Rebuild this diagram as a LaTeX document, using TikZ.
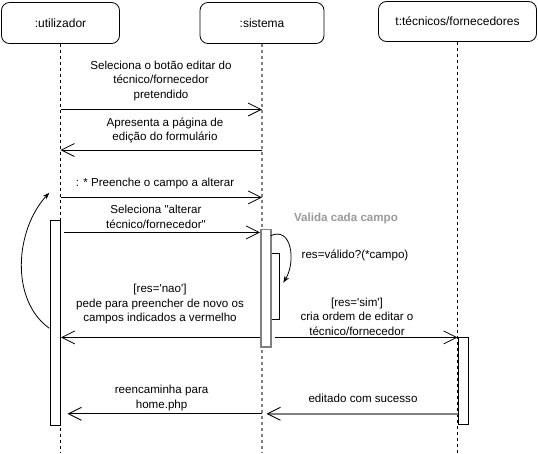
\documentclass[tikz,border=0pt]{standalone}
\usepackage{fontspec}
\setmainfont{Liberation Sans}
\usetikzlibrary{arrows.meta}
\definecolor{sysgray}{HTML}{808080}
\definecolor{lblgray}{HTML}{999999}
\tikzset{
  obj/.style={draw, rounded corners=8pt, line width=0.8pt, fill=white, inner sep=0pt, font=\fontsize{12}{14}\selectfont},
  life/.style={line width=0.8pt, dash pattern=on 3pt off 3pt},
  syslife/.style={line width=1.5pt, sysgray, dash pattern=on 3pt off 3pt},
  act/.style={draw, fill=white, line width=0.8pt, inner sep=0pt, minimum width=10pt},
  sysact/.style={draw=sysgray, fill=white, line width=1.5pt, inner sep=0pt, minimum width=10pt},
  msg/.style={line width=0.8pt, -{Straight Barb[length=13pt,width=13pt]}},
  sysmsg/.style={line width=1.5pt, sysgray, -{Straight Barb[length=13pt,width=13pt,line width=0.8pt,color=black]}},
  curv/.style={line width=0.8pt, -{Stealth[length=7pt,width=5pt]}},
  lbl/.style={align=center, inner sep=0pt, font=\fontsize{11.6}{14.5}\selectfont},
}
\begin{document}
\begin{tikzpicture}[x=1pt,y=-1pt]
\useasboundingbox (0,0) rectangle (538,453);
% objects
\node[obj, minimum width=118pt, minimum height=41pt] (u) at (60.5,23) {:utilizador};
\node[obj, minimum width=124pt, minimum height=41pt] (s) at (262,23) {:sistema};
\node[obj, minimum width=158pt, minimum height=40pt] (t) at (457.5,21.5) {t:técnicos/fornecedores};
% lifeline ends
\coordinate (uend) at (60.5,453);
\coordinate (send) at (262,453);
\coordinate (tend) at (457.5,453);
\draw[life] (u.south) -- (uend);
\draw[syslife] (s.south) -- (send);
\draw[life] (t.south) -- (tend);
% activations
\node[act, minimum height=205pt, anchor=north west] (ua) at (50,219.5) {};
\node[act, minimum width=9pt, minimum height=65.5pt, anchor=north west] (sn) at (270,253) {};
\node[sysact, minimum height=117.5pt, anchor=north west] (sa) at (260,228.5) {};
\node[act, minimum width=9.5pt, minimum height=87.7pt, anchor=north west] (ta) at (458,336.7) {};
% message endpoints
\coordinate (m1a) at (60.5,109.5); \coordinate (m1b) at (262,109.5);
\coordinate (m2a) at (262,150);    \coordinate (m2b) at (60.5,150);
\coordinate (m3a) at (60.5,197.4); \coordinate (m3b) at (262,197.4);
\coordinate (m4a) at (64,232.4);   \coordinate (m4b) at (260,232.4);
\coordinate (m5a) at (260,337.4);  \coordinate (m5b) at (61,337.4);
\coordinate (m6a) at (274.5,337.4); \coordinate (m6b) at (457.5,337.4);
\coordinate (m7a) at (262,413.8);  \coordinate (m7b) at (67.6,413.8);
\coordinate (m8a) at (458,413.8);  \coordinate (m8b) at (266.6,413.8);
\coordinate (selfa) at (270.7,235.7); \coordinate (selfb) at (283.3,282.7);
\coordinate (loopa) at (49.3,328.3); \coordinate (loopb) at (49.3,192.7);
% messages
\draw[msg] (m1a) -- (m1b);
\draw[msg] (m2a) -- (m2b);
\draw[msg] (m3a) -- (m3b);
\draw[msg] (m4a) -- (m4b);
\draw[msg] (m5a) -- (m5b);
\draw[msg] (m6a) -- (m6b);
\draw[msg] (m7a) -- (m7b);
\draw[sysmsg] (m8a) -- (m8b);
\draw[curv] (selfa) .. controls (292,226) and (296,262) .. (selfb);
\draw[curv] (loopa) .. controls (10,300) and (15,230) .. (loopb);
% labels
\node[lbl] (l1) at (161,80.5) {Seleciona o botão editar do\\técnico/fornecedor\\pretendido};
\node[lbl] (l2) at (165,130.5) {Apresenta a página de\\edição do formulário};
\node[lbl] (l3) at (155,183) {: * Preenche o campo a alterar};
\node[lbl] (l4) at (156,217) {Seleciona \textquotedbl alterar\\técnico/fornecedor\textquotedbl};
\node[lbl, text=lblgray, font=\bfseries\fontsize{11.6}{14.5}\selectfont] (l9) at (346,218.5) {Valida cada campo};
\node[lbl] (l10) at (355,255.5) {res=válido?(*campo)};
\node[lbl] (l5) at (160,304) {[res=\textquotesingle nao\textquotesingle]\\pede para preencher de novo os\\campos indicados a vermelho};
\node[lbl] (l6) at (357,316.5) {[res=\textquotesingle sim\textquotesingle]\\cria ordem de editar o\\técnico/fornecedor};
\node[lbl] (l7) at (161.6,398) {reencaminha para\\home.php};
\node[lbl] (l8) at (363,398) {editado com sucesso};
\end{tikzpicture}
\end{document}
